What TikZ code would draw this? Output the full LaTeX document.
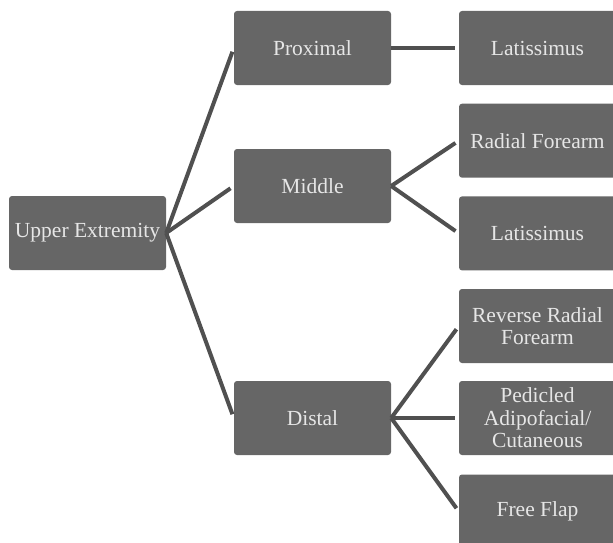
\documentclass[tikz,border=0pt]{standalone}
\usepackage{fontspec}
\setmainfont{Liberation Serif}
\definecolor{boxgray}{HTML}{666666}
\definecolor{textgray}{HTML}{E6E6E6}
\definecolor{linegray}{HTML}{505050}
\begin{document}
\begin{tikzpicture}[x=1pt,y=-1pt,
  box/.style={rectangle, rounded corners=3pt, fill=boxgray, text=textgray,
    minimum width=157pt, minimum height=74pt, align=center, inner sep=0pt,
    font=\fontsize{21.5}{22.5}\selectfont},
  link/.style={draw=linegray, line width=4pt, shorten >=4pt}]
\useasboundingbox (0,0) rectangle (613,543);
\node[box] (ue) at (87.5,233) {Upper Extremity};
\node[box] (prox) at (312.5,48) {Proximal};
\node[box] (mid) at (312.5,186) {Middle};
\node[box] (dist) at (312.5,418) {Distal};
\node[box] (lat1) at (537.5,48) {Latissimus};
\node[box] (rad) at (537.5,140.7) {Radial Forearm};
\node[box] (lat2) at (537.5,233.4) {Latissimus};
\node[box] (rrf) at (537.5,326) {Reverse Radial\\Forearm};
\node[box] (ped) at (537.5,418) {Pedicled\\Adipofacial/\\Cutaneous};
\node[box] (ff) at (537.5,511.5) {Free Flap};
\draw[link] (ue.east) -- (prox.west);
\draw[link] (ue.east) -- (mid.west);
\draw[link] (ue.east) -- (dist.west);
\draw[link] (prox.east) -- (lat1.west);
\draw[link] (mid.east) -- (rad.west);
\draw[link] (mid.east) -- (lat2.west);
\draw[link] (dist.east) -- (rrf.west);
\draw[link] (dist.east) -- (ped.west);
\draw[link] (dist.east) -- (ff.west);
\end{tikzpicture}
\end{document}
